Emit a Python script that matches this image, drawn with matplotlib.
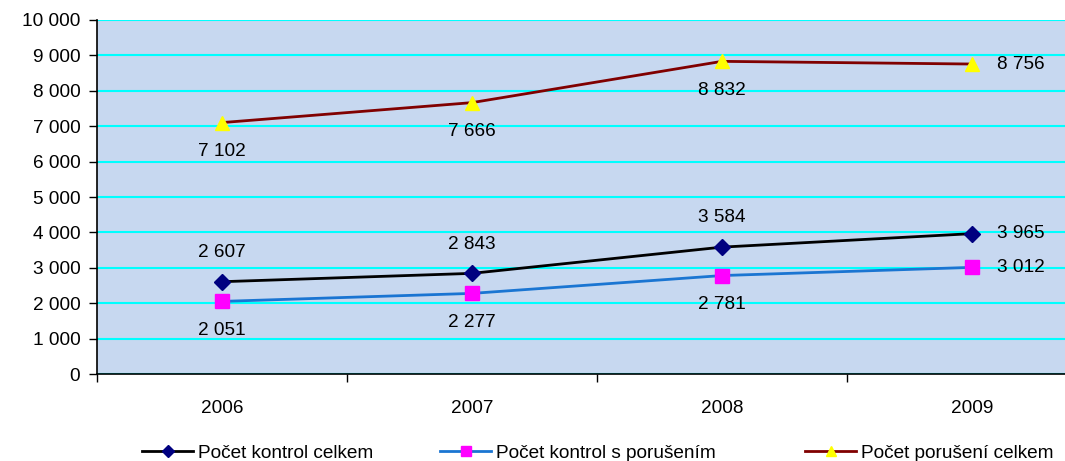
import numpy as np
import matplotlib.pyplot as plt
from matplotlib.ticker import FuncFormatter, FixedLocator

plt.rcParams['font.family'] = ['Liberation Sans', 'DejaVu Sans']

years = ['2006', '2007', '2008', '2009']
kontrol_celkem = [2607, 2843, 3584, 3965]
kontrol_porus = [2051, 2277, 2781, 3012]
poruseni_celkem = [7102, 7666, 8832, 8756]

# label placement per point: 'a' above, 'b' below, 'r' right
pos_celkem = ['a', 'a', 'a', 'r']
pos_porus = ['b', 'b', 'b', 'r']
pos_poruseni = ['b', 'b', 'b', 'r']


def fmt(v, _=None):
    return '{:,}'.format(int(v)).replace(',', ' ')


fs = 13.7
fig = plt.figure(figsize=(10.65, 4.61), dpi=100)
ax = fig.add_axes([97 / 1065, 87 / 461, 1000 / 1065, 354 / 461])
ax.set_facecolor('#C7D8F0')

x = np.arange(len(years))
l1, = ax.plot(x, kontrol_celkem, color='black', lw=2, marker='D', ms=8,
              mfc='#000080', mec='#000080', label='Počet kontrol celkem', zorder=3)
l2, = ax.plot(x, kontrol_porus, color='#1A75D2', lw=2, marker='s', ms=10,
              mfc='#FF00FF', mec='#FF00FF', label='Počet kontrol s porušením', zorder=3)
l3, = ax.plot(x, poruseni_celkem, color='#800000', lw=2, marker='^', ms=10,
              mfc='#FFFF00', mec='#FFFF00', label='Počet porušení celkem', zorder=3)

offsets = {'a': ((0, 21), 'center', 'center'),
           'b': ((0, -21), 'center', 'center'),
           'r': ((18, 0), 'left', 'center')}
for vals, poss in [(kontrol_celkem, pos_celkem), (kontrol_porus, pos_porus),
                   (poruseni_celkem, pos_poruseni)]:
    for i, (v, p) in enumerate(zip(vals, poss)):
        off, ha, va = offsets[p]
        ax.annotate(fmt(v), (i, v), xytext=off, textcoords='offset points',
                    ha=ha, va=va, fontsize=fs, color='black')

ax.set_xlim(-0.5, 3.5)
ax.set_ylim(0, 10000)
ax.set_yticks(np.arange(0, 10001, 1000))
ax.yaxis.set_major_formatter(FuncFormatter(fmt))
ax.yaxis.grid(True, color='#00FFFF', lw=1.5)
ax.set_axisbelow(True)

ax.xaxis.set_major_locator(FixedLocator([-0.5, 0.5, 1.5, 2.5, 3.5]))
ax.set_xticklabels([])
ax.xaxis.set_minor_locator(FixedLocator(x))
ax.set_xticklabels(years, minor=True)
ax.tick_params(axis='x', which='minor', length=0, pad=19, labelsize=fs)
ax.tick_params(axis='x', which='major', length=6, width=1, color='black')
ax.tick_params(axis='y', length=6, width=1, labelsize=fs, pad=6)

for s in ['top', 'right']:
    ax.spines[s].set_visible(False)
ax.spines['left'].set_linewidth(1.2)
ax.spines['bottom'].set_linewidth(1.2)

# one legend entry per position, like the original layout
for h, xpx in [(l1, 142), (l2, 440), (l3, 805)]:
    leg = fig.legend([h], [h.get_label()], loc='center left',
                     bbox_to_anchor=(xpx / 1065, 8 / 461), frameon=False,
                     fontsize=fs, handlelength=2.7, handletextpad=0.25,
                     borderpad=0, borderaxespad=0, markerscale=0.75)

fig.savefig('out.png', dpi=100)
